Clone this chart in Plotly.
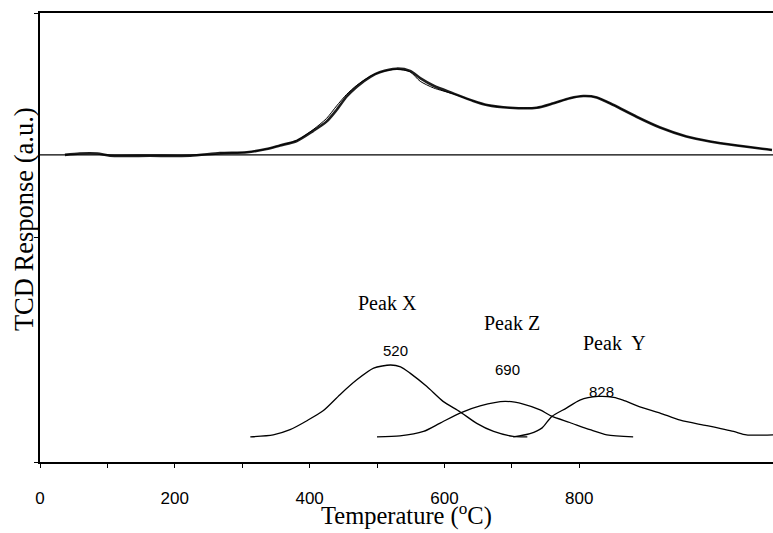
import plotly.graph_objects as go

# --- H2-TPR profile (measured) -------------------------------------------
temp_profile = [37, 59, 85, 104, 163, 223, 267, 307, 336, 356, 381, 405, 425, 440,
                455, 470, 490, 504, 529, 549, 564, 584, 613, 643, 663, 697, 737,
                762, 786, 806, 826, 851, 885, 920, 959, 994, 1034, 1086]
tcd_measured = [0, 0.3, 0.3, -0.2, -0.2, -0.2, 0.4, 0.6, 1.3, 2.1, 3.1, 5.3, 7.4, 10.0,
                13.0, 15.2, 17.4, 18.4, 19.2, 18.7, 17.1, 15.4, 13.7, 12.0, 11.1, 10.5, 10.5,
                11.5, 12.6, 13.1, 12.8, 11.1, 8.5, 6.1, 4.1, 3.0, 2.1, 1.1]

# --- fitted envelope ------------------------------------------------------
temp_fit = [267, 307, 336, 356, 381, 405, 425, 440, 455, 470, 490, 504, 529, 549,
            564, 584, 613, 643, 663, 697, 737, 762, 786, 806, 826, 851, 885, 920,
            959, 994, 1034, 1086]
tcd_fit = [0.4, 0.6, 1.3, 2.1, 3.2, 5.6, 8.1, 10.9, 13.5, 15.5, 17.5, 18.4, 19.1, 18.5,
           16.4, 14.9, 13.6, 12.0, 11.1, 10.5, 10.5, 11.5, 12.6, 13.1, 12.8, 11.1, 8.5, 6.1,
           4.1, 3.0, 2.1, 1.1]

# --- deconvoluted reduction peaks ----------------------------------------
temp_x = [312, 346, 371, 396, 420, 445, 470, 495, 520, 535, 549, 574, 598, 623, 648, 673, 702, 723]
peak_x = [0, 0.45, 1.6, 3.6, 5.8, 9.4, 12.7, 15.3, 16.0, 15.6, 14.2, 11.2, 7.9, 5.6, 3.0, 1.2, 0.1, 0]

temp_z = [500, 534, 569, 593, 623, 653, 690, 717, 742, 759, 786, 816, 841, 880]
peak_z = [0, 0.2, 1.2, 3.0, 5.3, 6.9, 7.9, 7.3, 6.0, 4.6, 3.2, 1.6, 0.45, 0]

temp_y = [702, 727, 745, 759, 781, 801, 828, 851, 865, 890, 920, 950, 989, 1029, 1048, 1088]
peak_y = [0, 0.7, 2.0, 4.5, 6.4, 8.2, 9.0, 8.8, 8.2, 6.7, 5.3, 3.7, 2.5, 1.2, 0.45, 0.45]

peak_names = ["Peak X", "Peak Z", "Peak\u00a0 Y"]
peak_maxima = [520, 690, 828]

x_labelled_ticks = [0, 200, 400, 600, 800]
x_minor_ticks = [100, 300, 500, 700]

# vertical offsets used to stack the profile above the components
profile_offset = 68.4
component_offset = 5.6

fig = go.Figure()

fig.add_hline(y=profile_offset, line=dict(color="black", width=1.4))

smooth = dict(shape="spline", smoothing=0.7)

fig.add_trace(go.Scatter(
    x=temp_profile, y=[v + profile_offset for v in tcd_measured],
    mode="lines", line=dict(color="#1e1e1e", width=2.6, **smooth), showlegend=False))
fig.add_trace(go.Scatter(
    x=temp_fit, y=[v + profile_offset for v in tcd_fit],
    mode="lines", line=dict(color="black", width=1, **smooth), showlegend=False))

for tx, hy in ((temp_x, peak_x), (temp_z, peak_z), (temp_y, peak_y)):
    fig.add_trace(go.Scatter(
        x=tx, y=[v + component_offset for v in hy],
        mode="lines", line=dict(color="black", width=1.3, **smooth), showlegend=False))

serif = "Liberation Serif, Times New Roman, serif"
sans = "Liberation Sans, Arial, sans-serif"

# peak names
name_pos = [(516, 35.5), (700, 31.0), (853, 26.5)]
for name, (px, py) in zip(peak_names, name_pos):
    fig.add_annotation(x=px, y=py, text=name, showarrow=False,
                       font=dict(family=serif, size=20, color="black"))

# peak maximum temperatures
value_pos = [(527, 24.8), (694, 20.6), (833, 15.8)]
for t, (px, py) in zip(peak_maxima, value_pos):
    fig.add_annotation(x=px, y=py, text=str(t), showarrow=False,
                       font=dict(family=sans, size=15, color="black"))

# axis captions
fig.add_annotation(x=0, y=0.541, xref="paper", yref="paper", xshift=-16,
                   text="TCD Response (a.u.)", textangle=-90, showarrow=False,
                   xanchor="center", yanchor="middle",
                   font=dict(family=serif, size=26.5, color="black"))
fig.add_annotation(x=0.5, y=0, xref="paper", yref="paper", yshift=-70,
                   text="Temperature (<sup>o</sup>C)", showarrow=False,
                   xanchor="center", yanchor="bottom",
                   font=dict(family=serif, size=24.5, color="black"))

fig.update_layout(
    width=773, height=533,
    margin=dict(l=40, r=0, t=13, b=71),
    paper_bgcolor="white", plot_bgcolor="white",
    showlegend=False,
    xaxis=dict(
        range=[0, 1087.5], tickmode="array", tickvals=x_labelled_ticks,
        ticks="outside", ticklen=4, tickwidth=1.3, tickcolor="black",
        minor=dict(tickmode="array", tickvals=x_minor_ticks, ticks="outside",
                   ticklen=4, tickwidth=1.3, tickcolor="black", showgrid=False),
        showline=True, linecolor="black", linewidth=1.5, mirror=True,
        showgrid=False, zeroline=False, automargin=False,
        tickfont=dict(family=sans, size=17, color="black"),
        ticklabelstandoff=16,
    ),
    yaxis=dict(
        range=[0, 100], tickvals=[0, 50, 100], showticklabels=False,
        ticks="outside", ticklen=4, tickwidth=1.3, tickcolor="black",
        showline=True, linecolor="black", linewidth=1.5,
        showgrid=False, zeroline=False, automargin=False,
    ),
)

fig.write_html("out.html")
